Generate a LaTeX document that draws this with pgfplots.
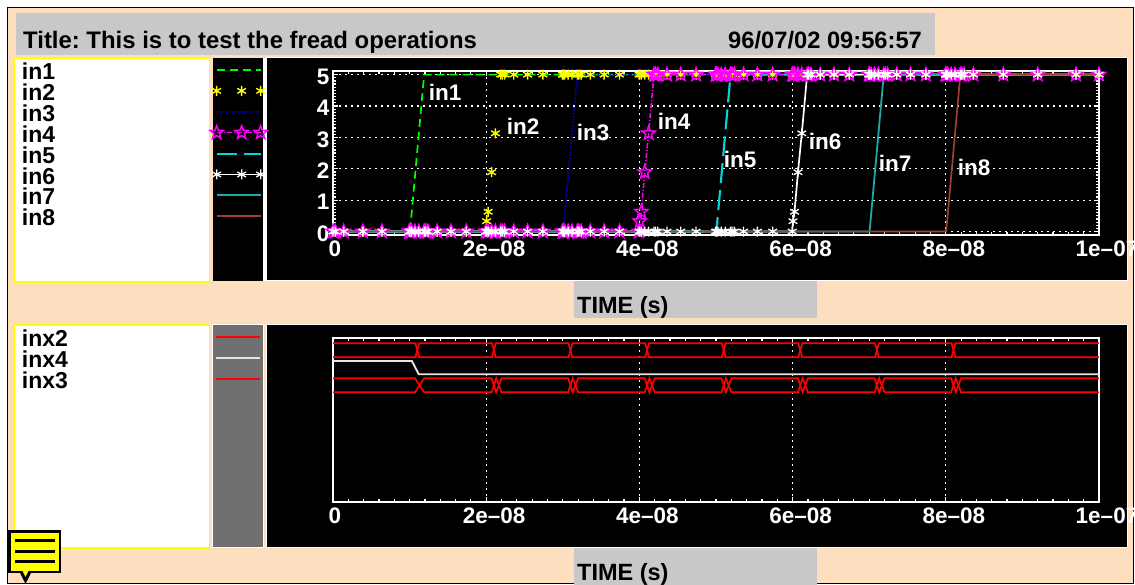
\documentclass[border=0pt]{standalone}
\usepackage{pgfplots}
\usepackage{pgfplotstable}
\usepackage{fontspec}
\setmainfont{Liberation Sans}
\frenchspacing
\pgfplotsset{compat=1.18}
\definecolor{peach}{HTML}{FDDFBF}
\definecolor{panelgrey}{HTML}{C8C8C8}
\definecolor{stripgrey}{HTML}{707070}
\definecolor{cgreen}{HTML}{00FF00}
\definecolor{cyellow}{HTML}{FFFF00}
\definecolor{cblue}{HTML}{0000D8}
\definecolor{cmag}{HTML}{FF00FF}
\definecolor{ccyan}{HTML}{00D8D8}
\definecolor{cteal}{HTML}{20A8A8}
\definecolor{cbrown}{HTML}{A04030}
\definecolor{cred}{HTML}{FF0000}
\definecolor{cwhite}{HTML}{E4E4E4}
\pgfdeclareplotmark{ostar}{%
  \pgfpathmoveto{\pgfqpointpolar{90}{\pgfplotmarksize}}%
  \pgfpathlineto{\pgfqpointpolar{126}{0.42\pgfplotmarksize}}%
  \pgfpathlineto{\pgfqpointpolar{162}{\pgfplotmarksize}}%
  \pgfpathlineto{\pgfqpointpolar{198}{0.42\pgfplotmarksize}}%
  \pgfpathlineto{\pgfqpointpolar{234}{\pgfplotmarksize}}%
  \pgfpathlineto{\pgfqpointpolar{270}{0.42\pgfplotmarksize}}%
  \pgfpathlineto{\pgfqpointpolar{306}{\pgfplotmarksize}}%
  \pgfpathlineto{\pgfqpointpolar{342}{0.42\pgfplotmarksize}}%
  \pgfpathlineto{\pgfqpointpolar{18}{\pgfplotmarksize}}%
  \pgfpathlineto{\pgfqpointpolar{54}{0.42\pgfplotmarksize}}%
  \pgfpathclose\pgfusepathqstroke}
\pgfplotstableread{
t in2 in4 in6
0 0 0 0
0.3 0 0 0
1.4 0 0 0
3.9 0 0 0
6.4 0 0 0
9.95 0 0 0
10.05 0 0 0
10.25 0 0 0
10.7 0 0 0
11.2 0 0 0
11.9 0 0 0
12.1 0 0 0
12.4 0 0 0
13.6 0 0 0
15.4 0 0 0
17.4 0 0 0
19.95 0 0 0
20.05 0.33 0 0
20.25 0.63 0 0
20.7 1.89 0 0
21.2 3.13 0 0
21.9 5 0 0
22.1 5 0 0
22.4 5 0 0
23.6 5 0 0
25.4 5 0 0
27.4 5 0 0
29.95 5 0 0
30.05 5 0 0
30.25 5 0 0
30.7 5 0 0
31.2 5 0 0
31.9 5 0 0
32.1 5 0 0
32.4 5 0 0
33.6 5 0 0
35.4 5 0 0
37.4 5 0 0
39.95 5 0 0
40.05 5 0.33 0
40.25 5 0.63 0
40.7 5 1.89 0
41.2 5 3.13 0
41.9 5 5 0
42.1 5 5 0
42.4 5 5 0
43.6 5 5 0
45.4 5 5 0
47.4 5 5 0
49.95 5 5 0
50.05 5 5 0
50.25 5 5 0
50.7 5 5 0
51.2 5 5 0
51.9 5 5 0
52.1 5 5 0
52.4 5 5 0
53.6 5 5 0
55.4 5 5 0
57.4 5 5 0
59.95 5 5 0
60.05 5 5 0.33
60.25 5 5 0.63
60.7 5 5 1.89
61.2 5 5 3.13
61.9 5 5 5
62.1 5 5 5
62.4 5 5 5
63.6 5 5 5
65.4 5 5 5
67.4 5 5 5
69.95 5 5 5
70.05 5 5 5
70.25 5 5 5
70.7 5 5 5
71.2 5 5 5
71.9 5 5 5
72.1 5 5 5
72.4 5 5 5
73.6 5 5 5
75.4 5 5 5
77.4 5 5 5
79.95 5 5 5
80.05 5 5 5
80.25 5 5 5
80.7 5 5 5
81.2 5 5 5
81.9 5 5 5
82.1 5 5 5
82.4 5 5 5
83.6 5 5 5
87.5 5 5 5
92 5 5 5
97 5 5 5
100 5 5 5
}\signals
\pgfplotsset{
  wave/.style={
    scale only axis, width=766pt,
    xmin=0, xmax=100,
    xtick={0,20,40,60,80,100},
    xticklabels={\makebox[0pt][c]{\hspace{-12pt}0},2e–08,4e–08,6e–08,8e–08,1e–07},
    minor x tick num=9,
    axis line style={white,line width=2pt},
    tick style={white,line width=1.2pt},
    major tick length=5pt, minor tick length=3pt,
    tick align=inside,
    x tick label style={font=\bfseries\fontsize{22.5}{24}\selectfont,text=white,xshift=8pt,yshift=-2.5pt},
    y tick label style={font=\bfseries\fontsize{22.5}{24}\selectfont,text=white,yshift=-2pt},
    /pgf/number format/assume math mode=true,
    grid style={white,line width=1.2pt,dash pattern=on 2pt off 4pt},
    legend plot pos=right,
    legend cell align=left,
    legend style={draw=none,fill=none,inner sep=0pt,outer sep=0pt,
      font=\bfseries\fontsize{23}{21}\selectfont,text=black,
      nodes={inner sep=0pt,outer sep=0pt,minimum height=20.9pt},
      /tikz/every even column/.style={column sep=0pt},
      row sep=0pt,column sep=0pt},
    legend image code/.code={\draw[#1] plot coordinates {(-13pt,2pt)(12pt,2pt)(31pt,2pt)};},
  },
}
\newcommand{\lab}[1]{\makebox[188pt][l]{#1}}
\newcommand{\labx}[1]{\makebox[193pt][l]{#1}}
\begin{document}
\begin{tikzpicture}[x=1pt,y=1pt]
\useasboundingbox (0,0) rectangle (1135,585);
\clip (0,0) rectangle (1135,585);
\fill[white] (0,0) rectangle (1135,585);
\draw[black,fill=peach,line width=1pt] (7.5,577) rectangle (1133,1);
% title
\fill[panelgrey] (16,572.3) rectangle (935,530);
\node[anchor=base west,inner sep=0,font=\bfseries\fontsize{23.9}{24}\selectfont] at (23,536.5) {Title: This is to test the fread operations};
\node[anchor=base west,inner sep=0,font=\bfseries\fontsize{23.7}{24}\selectfont] at (728,536.5) {96/07/02 09:56:57};
% upper panels
\draw[cyellow,fill=white,line width=1.5pt] (14,527) rectangle (209.5,303);
\fill[black] (212.5,527) rectangle (262.5,304);
\draw[white,fill=black,line width=1pt] (266,527) rectangle (1127,304);
\fill[white] (263,527) rectangle (265.5,304);
% time boxes
\fill[panelgrey] (574,304) rectangle (817,267);
\fill[panelgrey] (574,37) rectangle (817,0);
\node[anchor=base west,inner sep=0,font=\bfseries\fontsize{23.5}{24}\selectfont] at (577,271) {TIME (s)};
\node[anchor=base west,inner sep=0,font=\bfseries\fontsize{23.5}{24}\selectfont] at (577,4) {TIME (s)};
% lower panels
\draw[cyellow,fill=white,line width=1.5pt] (14,260) rectangle (209.5,37);
\draw[white,fill=stripgrey,line width=1pt] (212.5,260) rectangle (263,37);
\draw[white,fill=black,line width=1pt] (266,260) rectangle (1127,37);

\begin{axis}[wave, at={(333pt,350pt)}, anchor=south west, height=163.5pt,
  ymin=-0.11, ymax=5.1, ytick={0,1,2,3,4,5}, minor y tick num=9,
  xmajorgrids, ymajorgrids,
  legend style={at={(axis description cs:-0.406,1.061)},anchor=north west}]
\addplot[cgreen,line width=1.7pt,dash pattern=on 8pt off 5pt] coordinates {(0,0)(10.05,0)(11.9,5)(100,5)};
\addlegendentry{\lab{in1}}
\addplot[only marks,mark=asterisk,mark size=5pt,cyellow,line width=1.4pt] table[x=t,y=in2] {\signals};
\addlegendentry{\lab{in2}}
\addplot[cblue,line width=1.7pt,dash pattern=on 1.4pt off 1.6pt] coordinates {(0,0)(30.05,0)(31.9,5)(100,5)};
\addlegendentry{\lab{in3}}
\addplot[cmag,line width=1.5pt,dash pattern=on 5pt off 2pt on 1pt off 2pt,mark=ostar,mark size=7pt,mark options={solid,line width=1.5pt}] table[x=t,y=in4] {\signals};
\addlegendentry{\lab{in4}}
\addplot[ccyan,line width=2.1pt,dash pattern=on 20pt off 7pt] coordinates {(0,0)(50.05,0)(51.9,5)(100,5)};
\addlegendentry{\lab{in5}}
\addplot[white,line width=1.7pt,mark=asterisk,mark size=5pt,mark options={line width=1.3pt}] table[x=t,y=in6] {\signals};
\addlegendentry{\lab{in6}}
\addplot[cteal,line width=1.8pt] coordinates {(0,0)(70.05,0)(71.9,5)(100,5)};
\addlegendentry{\lab{in7}}
\addplot[cbrown,line width=1.7pt] coordinates {(0,0)(80.05,0)(81.9,5)(100,5)};
\addlegendentry{\lab{in8}}
\end{axis}

\begin{axis}[wave, at={(333pt,83pt)}, anchor=south west, height=164pt,
  ymin=0, ymax=164, ytick=\empty,
  xmajorgrids,
  legend style={at={(axis description cs:-0.406,1.058)},anchor=north west}]
\addplot[cred,line width=1.7pt] coordinates {(0,158.7)(10.75,158.7)(11.25,144.7)(20.75,144.7)(21.25,158.7)(30.75,158.7)(31.25,144.7)(40.75,144.7)(41.25,158.7)(50.75,158.7)(51.25,144.7)(60.75,144.7)(61.25,158.7)(70.75,158.7)(71.25,144.7)(80.75,144.7)(81.25,158.7)(100,158.7)};
\addlegendentry{\labx{inx2}}
\addplot[cred,line width=1.7pt,forget plot] coordinates {(0,144.7)(10.75,144.7)(11.25,158.7)(20.75,158.7)(21.25,144.7)(30.75,144.7)(31.25,158.7)(40.75,158.7)(41.25,144.7)(50.75,144.7)(51.25,158.7)(60.75,158.7)(61.25,144.7)(70.75,144.7)(71.25,158.7)(80.75,158.7)(81.25,144.7)(100,144.7)};
\addplot[cwhite,line width=1.9pt] coordinates {(0,141)(10.3,141)(11.2,127.7)(100,127.7)};
\addlegendentry{\labx{inx4}}
\addplot[cred,line width=1.7pt] coordinates {(0,123.7)(10.7,123.7)(11.9,109.7)(20.7,109.7)(21.3,123.7)(22,109.7)(30.7,109.7)(31.3,123.7)(32,109.7)(40.7,109.7)(41.3,123.7)(42,109.7)(50.7,109.7)(51.3,123.7)(52,109.7)(60.7,109.7)(61.3,123.7)(62,109.7)(70.7,109.7)(71.3,123.7)(72,109.7)(80.7,109.7)(81.3,123.7)(82,109.7)(100,109.7)};
\addlegendentry{\labx{inx3}}
\addplot[cred,line width=1.7pt,forget plot] coordinates {(0,109.7)(10.7,109.7)(11.9,123.7)(20.7,123.7)(21.3,109.7)(22,123.7)(30.7,123.7)(31.3,109.7)(32,123.7)(40.7,123.7)(41.3,109.7)(42,123.7)(50.7,123.7)(51.3,109.7)(52,123.7)(60.7,123.7)(61.3,109.7)(62,123.7)(70.7,123.7)(71.3,109.7)(72,123.7)(80.7,123.7)(81.3,109.7)(82,123.7)(100,123.7)};
\end{axis}

% curve labels
\begin{scope}[every node/.style={text=white,inner sep=0,font=\bfseries\fontsize{22.5}{24}\selectfont}]
\node at (445,493) {in1};
\node at (523,459) {in2};
\node at (593,453) {in3};
\node at (674,464) {in4};
\node at (740,426) {in5};
\node at (825,444) {in6};
\node at (895,422) {in7};
\node at (974,418) {in8};
\end{scope}
% note icon
\fill[black] (19.6,13) -- (31.4,13) -- (25.5,1) -- cycle;
\draw[black,fill=cyellow,line width=2.5pt] (9.5,53.5) rectangle (60,13);
\fill[cyellow] (22.5,14) -- (28.5,14) -- (25.5,8) -- cycle;
\draw[black,line width=2.5pt] (15,44.3) -- (55,44.3) (15,33.3) -- (55,33.3) (15,23.3) -- (55,23.3);
\end{tikzpicture}
\end{document}
